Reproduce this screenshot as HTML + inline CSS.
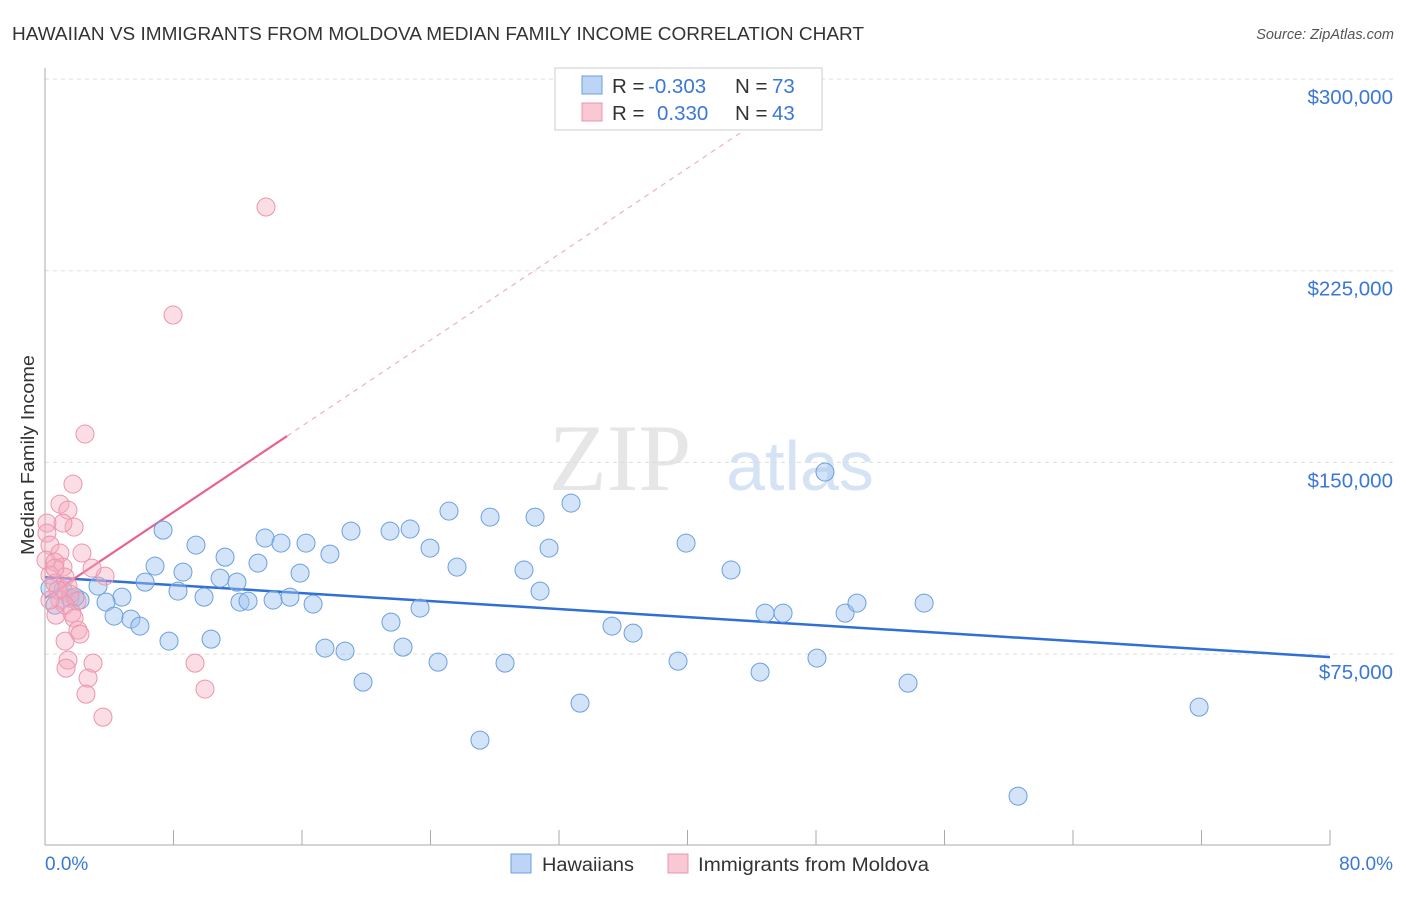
<!DOCTYPE html>
<html><head><meta charset="utf-8"><style>
body{margin:0;background:#fff;font-family:"Liberation Sans",sans-serif;}
svg text{font-family:"Liberation Sans",sans-serif;}
</style></head><body>
<svg id="c" width="1406" height="892" xmlns="http://www.w3.org/2000/svg">
<text x="12" y="40" font-size="18" fill="#333" textLength="852" lengthAdjust="spacingAndGlyphs">HAWAIIAN VS IMMIGRANTS FROM MOLDOVA MEDIAN FAMILY INCOME CORRELATION CHART</text>
<text x="1394" y="39" font-size="14.5" fill="#555" text-anchor="end" font-style="italic">Source: ZipAtlas.com</text>
<text x="620" y="490" font-size="95" fill="#e6e6e6" text-anchor="middle" style="font-family:'Liberation Serif',serif">ZIP</text>
<text x="800" y="490" font-size="70" fill="#d5e3f5" text-anchor="middle">atlas</text>
<g id="grid"></g>
<line x1="45" y1="68" x2="45" y2="845" stroke="#aaa"/>
<line x1="45" y1="845" x2="1330" y2="845" stroke="#aaa"/>
<g id="ticks"></g>
<text x="34" y="455" font-size="18" fill="#333" text-anchor="middle" textLength="200" lengthAdjust="spacingAndGlyphs" transform="rotate(-90 34 455)">Median Family Income</text>
<text x="45" y="870" font-size="19" fill="#3a78d8">0.0%</text>
<text x="1393" y="870" font-size="19" fill="#3a78d8" text-anchor="end">80.0%</text>
<g id="trend"></g>
<g id="pts"></g>
<g>
<rect x="555" y="68" width="267" height="62" fill="#fff" stroke="#ccc"/>
<rect x="582" y="76" width="20" height="18" fill="#bcd4f5" stroke="#6a9fe0"/>
<rect x="582" y="103" width="20" height="18" fill="#f9c8d5" stroke="#ec95ad"/>
<text x="612" y="93" font-size="20.5" fill="#333">R = <tspan x="648" fill="#3a78d8">-0.303</tspan><tspan x="735">N = </tspan><tspan x="772" fill="#3a78d8">73</tspan></text>
<text x="612" y="120" font-size="20.5" fill="#333">R = <tspan x="657" fill="#3a78d8">0.330</tspan><tspan x="735">N = </tspan><tspan x="772" fill="#3a78d8">43</tspan></text>
</g>
<g><rect x="511" y="854" width="20" height="19" fill="#bcd4f5" stroke="#6a9fe0"/><text x="542" y="871" font-size="19" fill="#333" textLength="92" lengthAdjust="spacingAndGlyphs">Hawaiians</text></g>
<g><rect x="668" y="854" width="20" height="19" fill="#f9c8d5" stroke="#ec95ad"/><text x="698" y="871" font-size="19" fill="#333" textLength="231" lengthAdjust="spacingAndGlyphs">Immigrants from Moldova</text></g>
</svg>
<script>
const yTicks=[75000,150000,225000,300000];
const yTickLabels=["$75,000","$150,000","$225,000","$300,000"];
const xTicks=[0,8,16,24,32,40,48,56,64,72,80];
const blueX=[7.35,9.40,11.21,13.70,14.69,16.25,17.74,19.05,21.48,22.73,23.97,25.15,27.71,30.51,32.75,31.38,6.85,8.59,6.23,10.90,11.95,13.26,15.88,3.30,4.79,8.28,9.90,12.14,12.64,14.20,15.25,16.69,23.35,21.54,25.65,29.82,30.82,3.80,4.30,5.35,5.91,7.72,10.34,17.43,18.68,22.29,24.47,28.64,19.80,27.08,33.31,35.30,36.61,39.91,42.71,44.83,45.95,49.81,50.55,54.73,39.41,44.52,48.06,53.73,48.56,71.85,60.58,1.12,1.56,0.62,2.18,0.31,1.87];
const blueY=[123500,117650,112950,120400,118440,118440,114130,123130,123130,123920,116480,130960,128610,128610,134090,116480,109440,107090,103170,104740,103170,110610,106700,101610,97300,99650,97300,95350,95740,96130,97300,94570,93000,87520,109050,107880,99650,95350,89870,88700,85960,80090,80870,77350,76180,77740,71870,71480,64040,41350,55830,85960,83220,118440,107880,91040,91040,91040,94960,94960,72260,67960,73440,63650,146220,54260,19430,100040,96910,94170,96130,100820,97300];
const pinkX=[13.76,7.97,2.49,1.74,0.93,1.43,1.81,1.12,0.12,0.12,0.31,0.93,2.30,0.06,0.62,1.12,0.31,1.25,3.74,2.93,0.62,1.43,1.56,1.99,0.93,1.25,0.68,1.68,1.81,2.05,2.18,1.25,2.99,1.43,1.31,2.68,2.55,3.61,9.34,9.96,0.81,0.31,0.62];
const pinkY=[249910,207650,161090,141520,133700,131350,124700,126260,126260,122350,117650,114530,114530,111780,111000,109050,105920,105130,105530,108660,102780,101610,98480,95740,96130,94170,90260,91040,89090,84390,82830,80090,71480,72650,69520,65610,59350,50350,71480,61310,100040,96130,108660];
const blueTrend=[[0,105130],[80,73830]];
const pinkTrend=[[0,96900],[15.07,160300]];
const pinkDash=[[15.07,160300],[44.5,284000]];
const NS="http://www.w3.org/2000/svg";
const X=p=>45+p/80*1285;
const Y=v=>79+(300000-v)/75000*191.7;
function mk(t,a,parent){const e=document.createElementNS(NS,t);for(const k in a)e.setAttribute(k,a[k]);document.getElementById(parent).appendChild(e);return e;}
yTicks.forEach((v,i)=>{
 const l=mk('line',{x1:45,x2:1394,y1:Y(v),y2:Y(v),stroke:'#ddd','stroke-dasharray':'4,4'},'grid');
 
 
 const t=mk('text',{x:1393,y:Y(v)+25,'font-size':20.5,fill:'#3a78d8','text-anchor':'end'},'grid');
 t.textContent=yTickLabels[i];
 
 
});
xTicks.forEach(p=>{
 const l=mk('line',{x1:X(p),x2:X(p),y1:830,y2:845,stroke:'#aaa'},'ticks');
 
 
});
function pts(xs,ys,fill,stroke,name){
 xs.forEach((x,i)=>{
  const c=mk('circle',{cx:X(x),cy:Y(ys[i]),r:9,fill:fill,stroke:stroke,'stroke-width':1},'pts');
  
  
 });
}
pts(blueX,blueY,'rgba(160,196,240,0.45)','#6a9fe0','hawaiian-point');
pts(pinkX,pinkY,'rgba(245,170,190,0.4)','#ec95ad','moldova-point');
function ln(d,stroke,w,dash,name){
 const a={x1:X(d[0][0]),y1:Y(d[0][1]),x2:X(d[1][0]),y2:Y(d[1][1]),stroke:stroke,'stroke-width':w};
 if(dash)a['stroke-dasharray']=dash;
 const l=mk('line',a,'trend');
 
 
}
ln(blueTrend,'#2f6fd6',2.5,null,'hawaiian-trendline');
ln(pinkTrend,'#e8628f',2.2,null,'moldova-trendline');
ln(pinkDash,'#eeb0c3',1.2,'5,5','moldova-trendline-extension');
</script>
</body></html>
